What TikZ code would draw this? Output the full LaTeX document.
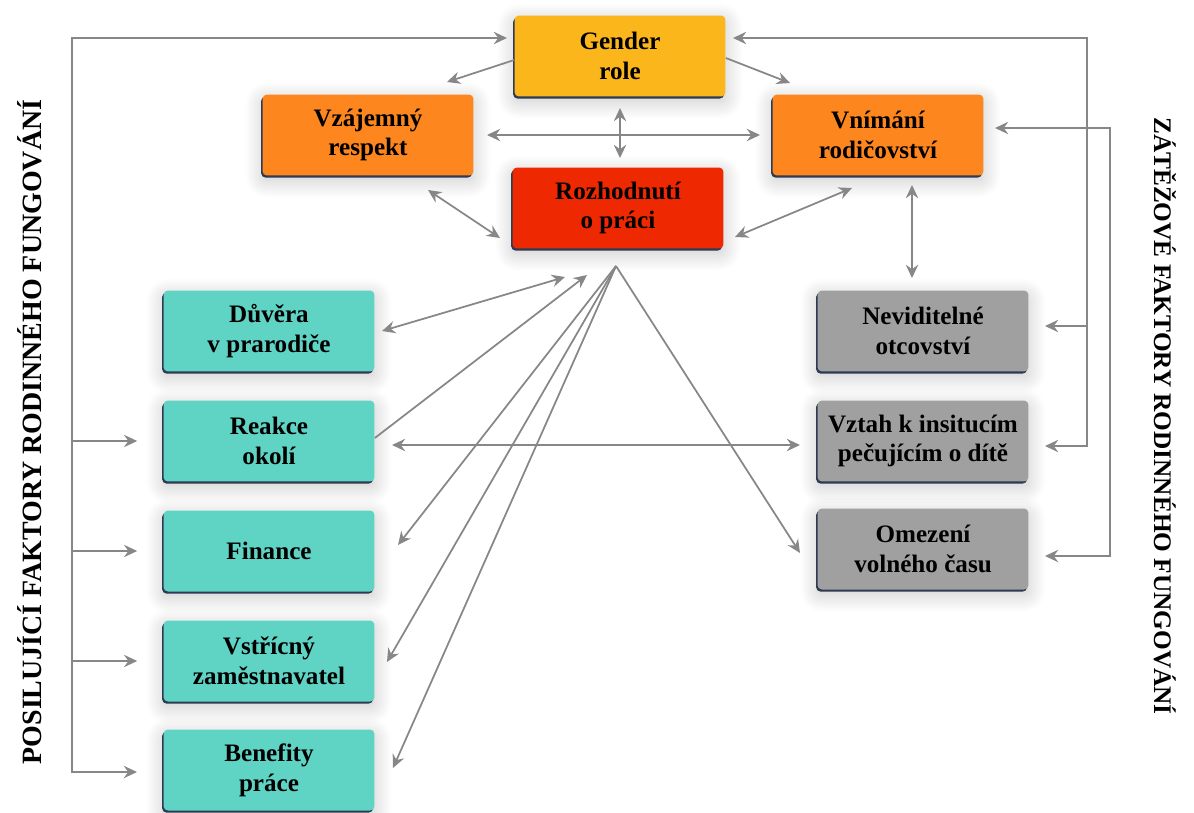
\documentclass[tikz,border=0pt]{standalone}
\usepackage{fontspec}
\setmainfont{Liberation Serif}[BoldFont={Liberation Serif Bold}]
\usetikzlibrary{arrows.meta,shadows,shadows.blur}

\definecolor{genderyellow}{RGB}{251,182,28}
\definecolor{roleorange}{RGB}{254,134,30}
\definecolor{decisionred}{RGB}{238,40,0}
\definecolor{supportteal}{RGB}{95,211,196}
\definecolor{burdengray}{RGB}{160,160,160}
\definecolor{boxedge}{RGB}{45,58,82}
\definecolor{linegray}{RGB}{135,135,135}

\begin{document}
\begin{tikzpicture}[x=0.02cm,y=-0.02cm,
  >={Stealth[length=7.5pt,width=7pt,inset=2.5pt]},
  box/.style={rounded corners=2.5pt,minimum width=4.22cm,minimum height=1.62cm,inner sep=0pt,
    align=center,font=\bfseries\fontsize{14.3}{17}\selectfont,
    blur shadow={shadow xshift=0pt,shadow yshift=-3pt,shadow blur radius=10pt,shadow blur steps=24,shadow opacity=22},
    general shadow={fill=boxedge,shadow xshift=-0.8pt,shadow yshift=-1.2pt}},
  arr/.style={draw=linegray,line width=1pt},
  sidetitle/.style={font=\bfseries\fontsize{15.9}{18}\selectfont}]
\useasboundingbox (0,0) rectangle (1194,812);

%side titles
\node[sidetitle,rotate=90] (plus) at (30,432) {POSILUJÍCÍ FAKTORY RODINNÉHO FUNGOVÁNÍ};
\node[sidetitle,rotate=-90,font=\bfseries\fontsize{14.4}{17}\selectfont] (minus) at (1165,416) {ZÁTĚŽOVÉ FAKTORY RODINNÉHO FUNGOVÁNÍ};

%middle
\node[box,fill=genderyellow] (gender) at (620,56) {Gender\\role};
\node[box,fill=roleorange] (respekt) at (368,135) {Vzájemný\\respekt};
\node[box,fill=roleorange] (rodic) at (878,135) {Vnímání\\rodičovství};
\node[box,fill=decisionred] (prace) at (618,208) {Rozhodnutí\\o práci};

%left column
\node[box,fill=supportteal] (duvera) at (269,331) {Důvěra\\v prarodiče};
\node[box,fill=supportteal] (reakce) at (269,441) {Reakce\\okolí};
\node[box,fill=supportteal] (finance) at (269,551) {Finance};
\node[box,fill=supportteal] (zamest) at (269,661) {Vstřícný\\zaměstnavatel};
\node[box,fill=supportteal] (benefit) at (269,770) {Benefity\\práce};

%right column
\node[box,fill=burdengray] (otcov) at (923,331) {Neviditelné\\otcovství};
\node[box,fill=burdengray] (instit) at (923,441) {Vztah k insitucím\\pečujícím o dítě};
\node[box,fill=burdengray] (volno) at (923,549) {Omezení\\volného času};

%free ends
\coordinate (apex) at (616,266);
\coordinate (lcorner) at (72,772);
\coordinate (rcornerA) at (1087,38);
\coordinate (rcornerB) at (1110,128);
\coordinate (gender-l) at (507,38);
\coordinate (gender-r) at (733,38);
\coordinate (respekt-in) at (447,82);
\coordinate (rodic-in) at (790,83);
\coordinate (gender-b) at (620,108);
\coordinate (prace-t) at (620,158);
\coordinate (respekt-r) at (487,135);
\coordinate (rodic-l) at (760,135);
\coordinate (respekt-b) at (428,190);
\coordinate (prace-lb) at (500,238);
\coordinate (rodic-b) at (852,188);
\coordinate (prace-rb) at (735,237);
\coordinate (rodic-bb) at (912,185);
\coordinate (otcov-t) at (912,278);
\coordinate (duvera-r) at (382,331);
\coordinate (prace-a) at (565,277);
\coordinate (prace-b) at (587,275);
\coordinate (finance-in) at (398,545);
\coordinate (zamest-in) at (387,662);
\coordinate (benefit-in) at (393,768);
\coordinate (volno-in) at (800,553);
\coordinate (reakce-r) at (392,445);
\coordinate (instit-l) at (800,445);
\coordinate (benefit-l) at (137,772);
\coordinate (rodic-r) at (995,128);
\coordinate (instit-r) at (1045,446);
\coordinate (volno-r) at (1045,556);
\coordinate (otcov-r) at (1045,326);

%outer frame lines
\draw[arr,<->] (benefit-l) -- (lcorner) |- (gender-l); %left
\foreach \n in {reakce,finance,zamest}
  \draw[arr,->] (lcorner |- \n.west) -- ([xshift=-0.52cm]\n.west);
\draw[arr,<->] (gender-r) -- (rcornerA) |- (instit-r); %right, outer
\draw[arr,->] (rcornerA |- otcov-r) -- (otcov-r);
\draw[arr,<->] (rodic-r) -- (rcornerB) |- (volno-r); %right, inner

%links round the decision
\draw[arr,->] ([yshift=-0.08cm]gender.west) -- (respekt-in);
\draw[arr,->] ([yshift=-0.04cm]gender.east) -- (rodic-in);
\draw[arr,<->] (gender-b) -- (prace-t);
\draw[arr,<->] (respekt-r) -- (rodic-l);
\draw[arr,<->] (respekt-b) -- (prace-lb);
\draw[arr,<->] (rodic-b) -- (prace-rb);
\draw[arr,<->] (rodic-bb) -- (otcov-t);

%fan
\draw[arr,<->] (duvera-r) -- (prace-a);
\draw[arr,->] ([yshift=0.06cm]reakce.east) -- (prace-b);
\foreach \t in {finance-in,zamest-in,benefit-in,volno-in}
  \draw[arr,->] (apex) -- (\t);
\draw[arr,<->] (reakce-r) -- (instit-l);

\end{tikzpicture}
\end{document}
